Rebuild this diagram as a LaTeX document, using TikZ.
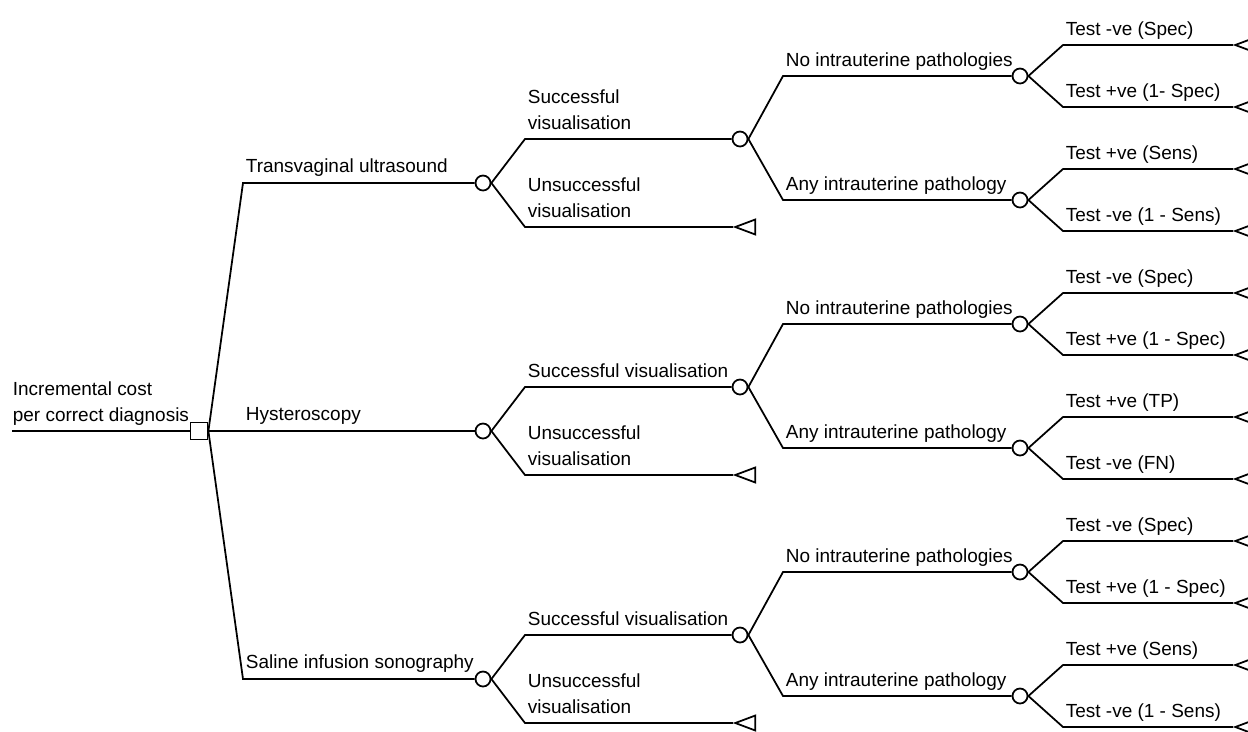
\documentclass[tikz,border=0pt]{standalone}
\usepackage{fontspec}
\setmainfont{Liberation Sans}
\usetikzlibrary{shapes.geometric}
\tikzset{
  decision/.style={draw,rectangle,minimum size=0.34cm,inner sep=0pt,fill=white},
  chance/.style={draw,circle,minimum size=0.3cm,inner sep=0pt,fill=white},
  endnode/.style={draw,isosceles triangle,isosceles triangle stretches,
    shape border rotate=180,minimum width=0.3cm,minimum height=0.4cm,
    inner sep=0pt,anchor=apex},
  lbl/.style={anchor=south west,inner sep=0pt,text depth=0pt,align=left,
    font=\fontsize{10.8}{14.8}\selectfont}
}

\begin{document}
\begin{tikzpicture}[x=0.02cm,y=-0.02cm,line width=1pt]
      \useasboundingbox (0,0) rectangle (1248,731);
      % root and decision node
      \coordinate (start) at (12,431);
      \node[decision] (dec) at (199,431) {};
      \draw (start) -- (dec.west);
      \node[lbl] (goal) at (12,422) {Incremental cost\\per correct diagnosis};
      % one sub-tree per test
      \foreach \yy/\meth/\suc/\ta/\tb/\tc/\td [count=\i] in {
        183/Transvaginal ultrasound/{Successful\\visualisation}/Test -ve (Spec)/Test +ve (1- Spec)/Test +ve (Sens)/Test -ve (1 - Sens),
        431/Hysteroscopy/Successful visualisation/Test -ve (Spec)/Test +ve (1 - Spec)/Test +ve (TP)/Test -ve (FN),
        679/Saline infusion sonography/Successful visualisation/Test -ve (Spec)/Test +ve (1 - Spec)/Test +ve (Sens)/Test -ve (1 - Sens)}
      {
        \node[chance] (m\i) at (483,\yy) {};
        \node[chance] (s\i) at (740,\yy-44) {};
        \node[endnode] (u\i) at (733,\yy+44) {};
        \node[chance] (n\i) at (1020,\yy-107) {};
        \node[chance] (a\i) at (1020,\yy+17) {};
        \node[endnode] (na\i) at (1233,\yy-138) {};
        \node[endnode] (nb\i) at (1233,\yy-76) {};
        \node[endnode] (aa\i) at (1233,\yy-14) {};
        \node[endnode] (ab\i) at (1233,\yy+48) {};
        \draw (dec.east) -- (243,\yy) -- (m\i.west);
        \draw (m\i.east) -- (525,\yy-44) -- (s\i.west);
        \draw (m\i.east) -- (525,\yy+44) -- (u\i.apex);
        \draw (s\i.east) -- (783,\yy-107) -- (n\i.west);
        \draw (s\i.east) -- (783,\yy+17) -- (a\i.west);
        \draw (n\i.east) -- (1063,\yy-138) -- (na\i.apex);
        \draw (n\i.east) -- (1063,\yy-76) -- (nb\i.apex);
        \draw (a\i.east) -- (1063,\yy-14) -- (aa\i.apex);
        \draw (a\i.east) -- (1063,\yy+48) -- (ab\i.apex);
        \node[lbl] (meth\i) at (245,\yy-10) {\meth};
        \node[lbl] (suc\i) at (527,\yy-53) {\suc};
        \node[lbl] (uns\i) at (527,\yy+35) {Unsuccessful\\visualisation};
        \node[lbl] (no\i) at (785,\yy-116) {No intrauterine pathologies};
        \node[lbl] (any\i) at (785,\yy+8) {Any intrauterine pathology};
        \node[lbl] (ta\i) at (1065,\yy-147) {\ta};
        \node[lbl] (tb\i) at (1065,\yy-85) {\tb};
        \node[lbl] (tc\i) at (1065,\yy-23) {\tc};
        \node[lbl] (td\i) at (1065,\yy+39) {\td};
      }
\end{tikzpicture}
\end{document}
